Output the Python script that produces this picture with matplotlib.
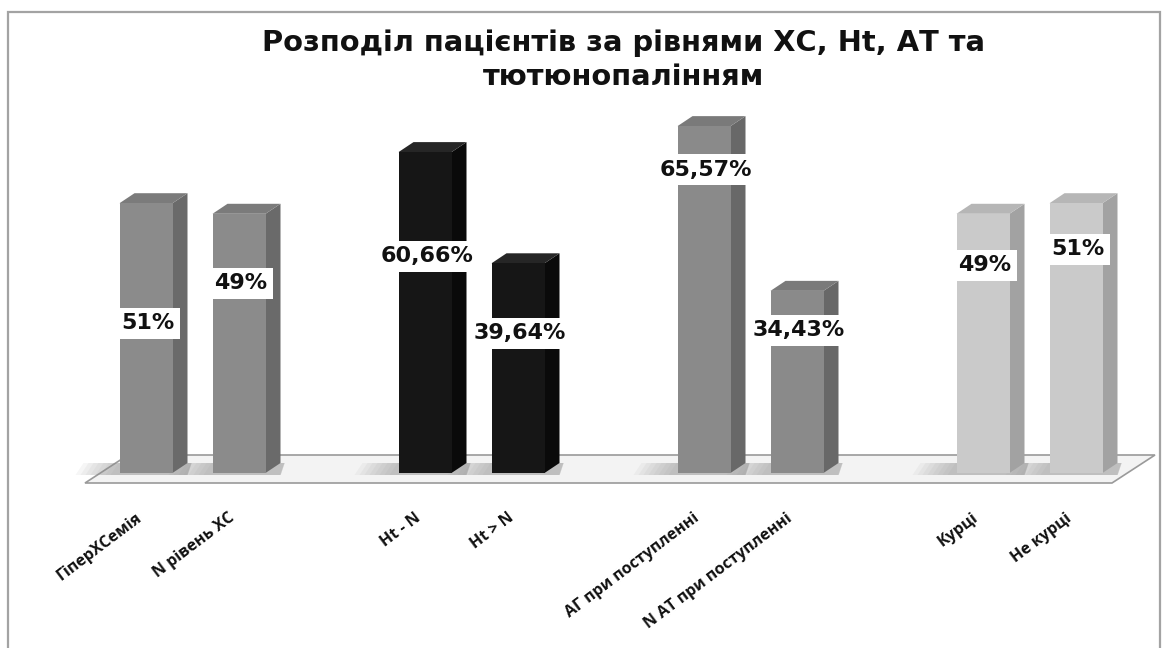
import matplotlib
matplotlib.use("Agg")
import matplotlib.pyplot as plt
from matplotlib.patches import Polygon, Rectangle

# ---- data ----
categories = ["ГіперХСемія", "N рівень ХС", "Ht - N", "Ht > N",
              "АГ при поступленні", "N АТ при поступленні", "Курці", "Не курці"]
values = [51, 49, 60.66, 39.64, 65.57, 34.43, 49, 51]
value_labels = ["51%", "49%", "60,66%", "39,64%", "65,57%", "34,43%", "49%", "51%"]
title = "Розподіл пацієнтів за рівнями ХС, Ht, АТ та\nтютюнопалінням"

# ---- layout / style ----
positions = [0, 1, 3, 4, 6, 7, 9, 10]
label_y = [28.3, 35.9, 41.0, 26.4, 57.3, 27.0, 39.3, 42.3]   # where data labels sit
group_front = ["#8b8b8b", "#8b8b8b", "#161616", "#161616",
               "#8a8a8a", "#8a8a8a", "#cacaca", "#cacaca"]
group_side = ["#6a6a6a", "#6a6a6a", "#0a0a0a", "#0a0a0a",
              "#686868", "#686868", "#a2a2a2", "#a2a2a2"]
group_top = ["#7b7b7b", "#7b7b7b", "#262626", "#262626",
             "#7a7a7a", "#7a7a7a", "#b6b6b6", "#b6b6b6"]

W, H = 1168, 648
X0, PXX = 146.0, 93.0      # pixel of position 0, pixels per category unit
Y0, PXY = 473.0, 5.29      # pixel row of 0 %, pixels per percent

def xd(px):
    return (px - X0) / PXX

def yd(py):
    return (Y0 - py) / PXY

fig = plt.figure(figsize=(W / 100, H / 100), dpi=100)
ax = fig.add_axes([0, 0, 1, 1])
ax.set_xlim(xd(0), xd(W))
ax.set_ylim(yd(H), yd(0))
ax.axis("off")

# frame
fig.patches.append(Rectangle((8 / W, -0.02), (1160 - 8) / W, (H - 12) / H + 0.02,
                             transform=fig.transFigure, fill=False,
                             edgecolor="#a3a3a3", linewidth=1.6))

# floor
floor = Polygon([(xd(85), yd(483)), (xd(1112), yd(483)),
                 (xd(1155), yd(455)), (xd(128), yd(455))],
                closed=True, facecolor="#f3f3f3", edgecolor="#9a9a9a",
                linewidth=1.2, zorder=1)
ax.add_patch(floor)

bw = 53 / PXX
ddx = 15 / PXX
ddy = 10 / PXY

bars = ax.bar(positions, values, width=bw, color=group_front,
              edgecolor="none", zorder=4)

for b, fc, sc, tc in zip(bars, group_front, group_side, group_top):
    x0 = b.get_x()
    x1 = x0 + b.get_width()
    h = b.get_height()
    # soft gradient shadow on the floor, to the left of the bar base
    for k in range(8):
        ext = (44 - 5 * k) / PXX
        sh = Polygon([(x0 - ext, -2 / PXY), (x1 + ddx, -2 / PXY),
                      (x1 + ddx + 4 / PXX, ddy), (x0 - ext + 8 / PXX, ddy)],
                     closed=True, facecolor="#8f8f8f", edgecolor="none",
                     alpha=0.08, zorder=2)
        ax.add_patch(sh)
    side = Polygon([(x1, 0), (x1 + ddx, ddy), (x1 + ddx, h + ddy), (x1, h)],
                   closed=True, facecolor=sc, edgecolor="none", zorder=3)
    top = Polygon([(x0, h), (x1, h), (x1 + ddx, h + ddy), (x0 + ddx, h + ddy)],
                  closed=True, facecolor=tc, edgecolor="none", zorder=3)
    ax.add_patch(side)
    ax.add_patch(top)

# data labels
for p, ly, txt in zip(positions, label_y, value_labels):
    ax.text(p + 2 / PXX, ly, txt, ha="center", va="center",
            fontsize=16, fontweight="bold", family="DejaVu Sans", color="#111111",
            zorder=6,
            bbox=dict(boxstyle="square,pad=0.25", facecolor="white",
                      edgecolor="none"))

# category labels
for p, cat in zip(positions, categories):
    ax.text(p - 11 / PXX, yd(510), cat, ha="right", va="top",
            rotation=37, rotation_mode="anchor",
            fontsize=11.5, fontweight="bold", family="Open Sans", color="#111111")

# title
fig.text(624 / W, 1 - 60 / H, title, ha="center", va="center",
         fontsize=20.8, fontweight="bold", family="DejaVu Sans",
         linespacing=1.25, color="#111111")

fig.savefig("out.png", dpi=100)
